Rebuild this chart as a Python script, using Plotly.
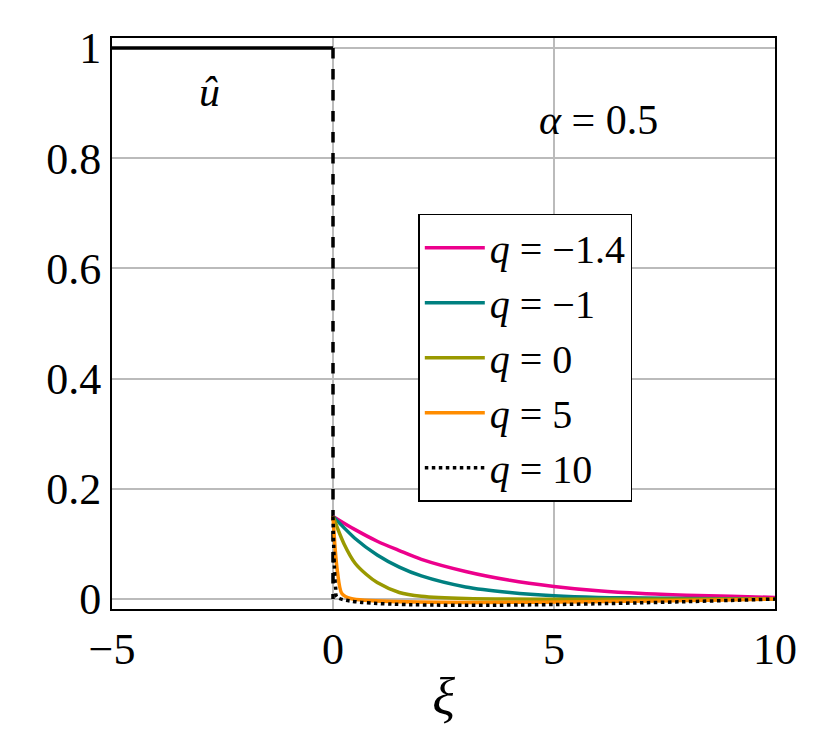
import plotly.graph_objects as go

# ξ sample points and values
x_pink = [0, 0.5, 1, 1.5, 2, 3, 4, 5, 6, 7, 8, 9, 10]
y_pink = [0.15, 0.126, 0.105, 0.088, 0.072, 0.05, 0.034, 0.023, 0.015, 0.01, 0.007, 0.005, 0.003]
x_teal = [0, 0.5, 1, 1.5, 2, 3, 4, 5, 6, 7, 8, 10]
y_teal = [0.15, 0.11, 0.08, 0.058, 0.042, 0.022, 0.012, 0.006, 0.003, 0.002, 0.001, 0.0]
x_olive = [0, 0.25, 0.5, 0.75, 1, 1.5, 2, 3, 10]
y_olive = [0.15, 0.1, 0.065, 0.045, 0.03, 0.012, 0.005, 0.001, 0.0]
x_orange = [0, 0.05, 0.1, 0.2, 0.4, 10]
y_orange = [0.15, 0.09, 0.05, 0.01, 0.001, 0.0]
x_q10 = [0, 0.03, 0.06, 0.1, 10]
y_q10 = [0.15, 0.06, 0.02, 0.003, 0.0]
x_uhat = [-5, 0]
y_uhat = [1, 1]

font = "Liberation Serif"
fig = go.Figure()
fig.add_trace(go.Scatter(x=x_uhat, y=y_uhat, mode="lines", line=dict(color="black", width=3.5), showlegend=False))
fig.add_trace(go.Scatter(x=[0, 0], y=[1, 0], mode="lines", line=dict(color="black", width=3.5, dash="dash"), showlegend=False))
series = [
    (x_pink, y_pink, "#ec008c", "solid", "<i>q</i> = −1.4"),
    (x_teal, y_teal, "#008080", "solid", "<i>q</i> = −1"),
    (x_olive, y_olive, "#999900", "solid", "<i>q</i> = 0"),
    (x_orange, y_orange, "#ff8c00", "solid", "<i>q</i> = 5"),
    (x_q10, y_q10, "black", "dot", "<i>q</i> = 10"),
]
for xs, ys, c, d, name in series:
    fig.add_trace(go.Scatter(x=xs, y=ys, mode="lines", name=name,
                             line=dict(color=c, width=3.5, dash=d, shape="spline", smoothing=0.8)))

ax = dict(showline=True, linecolor="black", linewidth=2, mirror=True, showgrid=True,
          gridcolor="#bbbbbb", gridwidth=1.5, zeroline=False, ticks="outside", ticklen=0)
fig.update_layout(
    width=832, height=746, plot_bgcolor="white", paper_bgcolor="white",
    margin=dict(l=104, r=65, t=30, b=145),
    font=dict(family=font, size=44, color="black"),
    xaxis=dict(range=[-5, 10], tickvals=[-5, 0, 5, 10], ticktext=["−5", "0", "5", "10"],
               title=dict(text="<i>ξ</i>", standoff=4), **ax),
    yaxis=dict(range=[-0.018, 1.018], tickvals=[0, 0.2, 0.4, 0.6, 0.8, 1],
               ticktext=["0", "0.2", "0.4", "0.6", "0.8", "1"], **ax),
    legend=dict(x=0.462, y=0.692, xanchor="left", yanchor="top", bgcolor="white",
                bordercolor="black", borderwidth=1.5, font=dict(size=40), tracegroupgap=0,
                itemwidth=60),
    annotations=[
        dict(x=-2.8, y=0.92, text="<i>û</i>", showarrow=False, font=dict(size=42)),
        dict(x=6, y=0.87, text="<i>α</i> = 0.5", showarrow=False, font=dict(size=42)),
    ],
)
fig.write_html("out.html")
